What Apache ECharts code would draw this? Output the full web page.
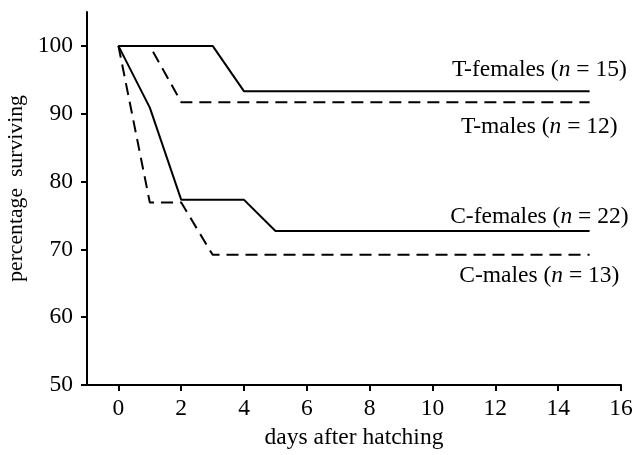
<!DOCTYPE html>
<html><head><meta charset="utf-8">
<script src="https://cdn.jsdelivr.net/npm/echarts@6/dist/echarts.min.js"></script>
<style>html,body{margin:0;padding:0;background:#fff}#c{width:634px;height:455px}</style>
</head><body><div id="c"></div>
<script>
// Data
const xTicks = [0, 2, 4, 6, 8, 10, 12, 14, 16];
const yTicks = [50, 60, 70, 80, 90, 100];
const tFemDays = [0, 3, 4, 15];
const tFemVals = [100, 100, 93.3, 93.3];
const tMaleDays = [0, 1, 2, 15];
const tMaleVals = [100, 100, 91.7, 91.7];
const cFemDays = [0, 1, 2, 4, 5, 15];
const cFemVals = [100, 90.9, 77.3, 77.3, 72.7, 72.7];
const cMaleDays = [0, 1, 2, 3, 15];
const cMaleVals = [100, 76.9, 76.9, 69.2, 69.2];
const groupNames = ['T-females', 'T-males', 'C-females', 'C-males'];
const groupN = [15, 12, 22, 13];

const FONT = 'Liberation Serif';
const FS = 23.5;
const labelDay = 13.4;
const labelOffsets = [-22, 25, -14, 21];
const dashed = [false, true, false, true];
const days = [tFemDays, tMaleDays, cFemDays, cMaleDays];
const vals = [tFemVals, tMaleVals, cFemVals, cMaleVals];

const series = groupNames.map((name, k) => {
  const d = days[k].map((x, i) => [x, vals[k][i]]);
  const last = vals[k][vals[k].length - 1];
  return {
    type: 'line', name: name, data: d, showSymbol: false, symbol: 'none',
    silent: true, animation: false, z: 3,
    lineStyle: { color: '#000', width: 2, type: dashed[k] ? [12, 7] : 'solid', cap: 'butt' },
    markPoint: {
      symbol: 'circle', symbolSize: 0, silent: true, animation: false,
      data: [{ coord: [labelDay, last] }],
      label: {
        show: true, position: 'inside', offset: [0, labelOffsets[k]],
        formatter: '{a|' + name + ' (}{i|n}{a| = ' + groupN[k] + ')}',
        rich: {
          a: { fontFamily: FONT, fontSize: FS, color: '#000' },
          i: { fontFamily: FONT, fontSize: FS, color: '#000', fontStyle: 'italic' }
        }
      }
    }
  };
});

const chart = echarts.init(document.getElementById('c'), null, { renderer: 'canvas' });
chart.setOption({
  backgroundColor: '#fff',
  animation: false,
  grid: { left: 87, right: 13, top: 12, bottom: 70, containLabel: false, outerBoundsMode: 'none' },
  xAxis: {
    type: 'value', min: -1, max: 16,
    name: 'days after hatching', nameLocation: 'middle', nameGap: 40,
    nameTextStyle: { fontFamily: FONT, fontSize: FS, color: '#000' },
    axisLine: { show: true, onZero: false, lineStyle: { color: '#000', width: 2 } },
    axisTick: { show: true, length: 6, customValues: xTicks, lineStyle: { color: '#000', width: 2 } },
    axisLabel: { customValues: xTicks, fontFamily: FONT, fontSize: FS, color: '#000', margin: 12 },
    splitLine: { show: false }
  },
  yAxis: {
    type: 'value', min: 50, max: 105,
    name: 'percentage  surviving', nameLocation: 'middle', nameGap: 50,
    nameTextStyle: { fontFamily: FONT, fontSize: 21.7, color: '#000', padding: [0, 0, 0, 20] },
    axisLine: { show: true, onZero: false, lineStyle: { color: '#000', width: 2 } },
    axisTick: { show: true, length: 6, customValues: yTicks, lineStyle: { color: '#000', width: 2 } },
    axisLabel: { customValues: yTicks, fontFamily: FONT, fontSize: FS, color: '#000', margin: 14 },
    splitLine: { show: false }
  },
  series: series
});
</script></body></html>
